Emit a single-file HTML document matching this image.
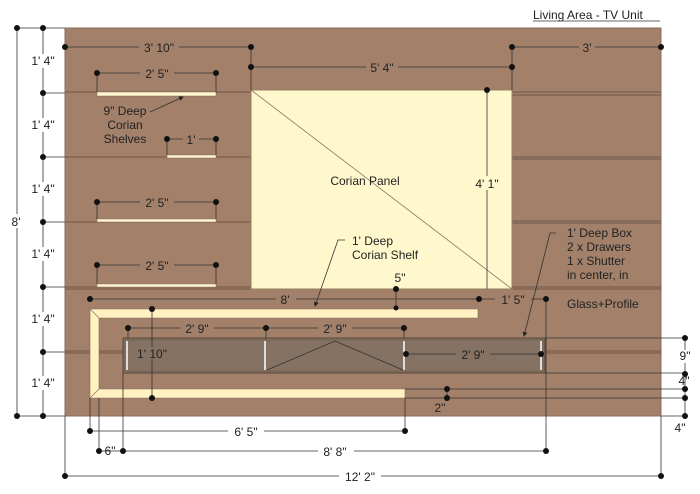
<!DOCTYPE html>
<html><head><meta charset="utf-8"><style>
html,body{margin:0;padding:0;background:#fff}
svg{display:block}
text{font-family:"Liberation Sans",sans-serif;font-size:12px;fill:#222}
</style></head><body>
<svg width="700" height="494" viewBox="0 0 700 494">
<defs><marker id="ar" markerWidth="6" markerHeight="6" refX="5" refY="3" orient="auto"><path d="M0,0 L6,3 L0,6z" fill="#222"/></marker></defs>
<rect x="65" y="28" width="596" height="388" fill="#a2806a" stroke="#8a6d58"/>
<g stroke="#6e5646" stroke-width="1">
<line x1="65" y1="92" x2="251" y2="92"/><line x1="65" y1="157" x2="251" y2="157"/><line x1="65" y1="222" x2="251" y2="222"/>
<line x1="512" y1="92" x2="661" y2="92"/><line x1="512" y1="95" x2="661" y2="95"/>
<line x1="512" y1="157" x2="661" y2="157"/><line x1="512" y1="159" x2="661" y2="159"/>
<line x1="512" y1="221" x2="661" y2="221"/><line x1="512" y1="223" x2="661" y2="223"/>
<line x1="65" y1="287" x2="661" y2="287"/><line x1="65" y1="289" x2="661" y2="289"/>
<line x1="65" y1="351" x2="123" y2="351"/><line x1="65" y1="353" x2="123" y2="353"/>
<line x1="545" y1="351" x2="661" y2="351"/><line x1="545" y1="353" x2="661" y2="353"/>
</g>
<rect x="251" y="90" width="261" height="199" fill="#fff8cc" stroke="#9a8060"/>
<line x1="251" y1="90" x2="512" y2="289" stroke="#8a7660" stroke-width="0.8"/>
<g fill="#fff6d0" stroke="#8a6d58" stroke-width="0.5">
<rect x="97" y="92" width="119" height="4"/><rect x="167" y="155" width="49" height="3"/>
<rect x="97" y="219" width="119" height="3"/><rect x="97" y="284" width="119" height="3"/>
</g>
<path d="M90,309 L478,309 L478,318 L99,318 L99,389 L405,389 L405,398 L90,398 Z" fill="#fff1c2" stroke="#8a6d58" stroke-width="0.6"/>
<line x1="90" y1="309" x2="99" y2="318" stroke="#8a6d58" stroke-width="0.6"/>
<line x1="90" y1="398" x2="99" y2="389" stroke="#8a6d58" stroke-width="0.6"/>
<rect x="123" y="338" width="422" height="35" fill="#7d6a5b" stroke="#5a4a3e"/>
<rect x="127" y="341" width="414" height="29" fill="#857262"/>
<g stroke="#ddd" stroke-width="2"><line x1="127" y1="341" x2="127" y2="370"/><line x1="265" y1="341" x2="265" y2="370"/><line x1="404" y1="341" x2="404" y2="370"/><line x1="541" y1="341" x2="541" y2="370"/></g>
<polyline points="267,370 335,341 403,370" fill="none" stroke="#333" stroke-width="0.8"/>
<g stroke="#333" stroke-width="0.8" fill="none">
<line x1="17" y1="28" x2="17" y2="416"/><line x1="43" y1="28" x2="43" y2="416"/>
<line x1="17" y1="28" x2="65" y2="28"/><line x1="17" y1="416" x2="65" y2="416"/>
<line x1="43" y1="93" x2="65" y2="93"/><line x1="43" y1="157" x2="65" y2="157"/><line x1="43" y1="222" x2="65" y2="222"/><line x1="43" y1="287" x2="65" y2="287"/><line x1="43" y1="352" x2="65" y2="352"/>
<line x1="65" y1="47" x2="251" y2="47"/><line x1="251" y1="47" x2="251" y2="90"/>
<line x1="251" y1="67" x2="512" y2="67"/><line x1="512" y1="47" x2="512" y2="90"/><line x1="512" y1="47" x2="661" y2="47"/>
<line x1="97" y1="73" x2="216" y2="73"/><line x1="97" y1="73" x2="97" y2="92"/><line x1="216" y1="73" x2="216" y2="92"/>
<line x1="167" y1="139" x2="216" y2="139"/><line x1="167" y1="139" x2="167" y2="155"/><line x1="216" y1="139" x2="216" y2="155"/>
<line x1="97" y1="202" x2="216" y2="202"/><line x1="97" y1="202" x2="97" y2="219"/><line x1="216" y1="202" x2="216" y2="219"/>
<line x1="97" y1="265" x2="216" y2="265"/><line x1="97" y1="265" x2="97" y2="284"/><line x1="216" y1="265" x2="216" y2="284"/>
<line x1="487" y1="90" x2="487" y2="289"/>
<line x1="396" y1="289" x2="396" y2="308"/>
<line x1="90" y1="299" x2="546" y2="299"/><line x1="546" y1="299" x2="546" y2="451"/>
<line x1="128" y1="328" x2="404" y2="328"/><line x1="128" y1="328" x2="128" y2="338"/><line x1="266" y1="328" x2="266" y2="338"/><line x1="404" y1="328" x2="404" y2="338"/>
<line x1="406" y1="354" x2="541" y2="354"/>
<line x1="152" y1="309" x2="152" y2="398"/>
<line x1="545" y1="338" x2="685" y2="338"/><line x1="545" y1="373" x2="685" y2="373"/>
<line x1="405" y1="389" x2="685" y2="389"/><line x1="405" y1="398" x2="685" y2="398"/>
<line x1="661" y1="416" x2="685" y2="416"/><line x1="685" y1="338" x2="685" y2="416"/>
<line x1="447" y1="389" x2="447" y2="398"/>
<line x1="90" y1="398" x2="90" y2="431"/><line x1="405" y1="398" x2="405" y2="431"/><line x1="90" y1="431" x2="405" y2="431"/>
<line x1="99" y1="398" x2="99" y2="451"/><line x1="123" y1="373" x2="123" y2="451"/><line x1="99" y1="451" x2="546" y2="451"/>
<line x1="65" y1="416" x2="65" y2="476"/><line x1="661" y1="416" x2="661" y2="476"/><line x1="65" y1="476" x2="661" y2="476"/>
<polyline points="345,240 338,240 315,306" marker-end="url(#ar)"/>
<polyline points="556,233 550,233 524,336" marker-end="url(#ar)"/>
</g>
<line x1="150" y1="112" x2="183" y2="97" stroke="#333" stroke-width="0.8" marker-end="url(#ar)"/>
<g fill="#111">
<circle cx="17" cy="28" r="3"/><circle cx="43" cy="28" r="3"/><circle cx="17" cy="416" r="3"/><circle cx="43" cy="416" r="3"/>
<circle cx="43" cy="93" r="3"/><circle cx="43" cy="157" r="3"/><circle cx="43" cy="222" r="3"/><circle cx="43" cy="287" r="3"/><circle cx="43" cy="352" r="3"/>
<circle cx="65" cy="47" r="3"/><circle cx="251" cy="47" r="3"/><circle cx="251" cy="67" r="3"/><circle cx="512" cy="67" r="3"/><circle cx="512" cy="47" r="3"/><circle cx="661" cy="47" r="3"/>
<circle cx="97" cy="73" r="3"/><circle cx="216" cy="73" r="3"/><circle cx="167" cy="139" r="3"/><circle cx="216" cy="139" r="3"/>
<circle cx="97" cy="202" r="3"/><circle cx="216" cy="202" r="3"/><circle cx="97" cy="265" r="3"/><circle cx="216" cy="265" r="3"/>
<circle cx="487" cy="90" r="3"/><circle cx="396" cy="289" r="3"/><circle cx="396" cy="308" r="2.5"/>
<circle cx="90" cy="299" r="3"/><circle cx="479" cy="299" r="3"/><circle cx="546" cy="299" r="3"/>
<circle cx="128" cy="328" r="3"/><circle cx="266" cy="328" r="3"/><circle cx="404" cy="328" r="3"/>
<circle cx="406" cy="354" r="3"/><circle cx="541" cy="354" r="3"/>
<circle cx="152" cy="309" r="3"/><circle cx="152" cy="398" r="3"/>
<circle cx="685" cy="338" r="3"/><circle cx="685" cy="374" r="3"/><circle cx="685" cy="389" r="3"/><circle cx="685" cy="398" r="3"/><circle cx="685" cy="416" r="3"/>
<circle cx="447" cy="389" r="3"/><circle cx="447" cy="398" r="3"/>
<circle cx="90" cy="431" r="3"/><circle cx="405" cy="431" r="3"/>
<circle cx="99" cy="451" r="3"/><circle cx="123" cy="451" r="3"/><circle cx="546" cy="451" r="3"/>
<circle cx="65" cy="476" r="3"/><circle cx="661" cy="476" r="3"/>
</g>
<g text-anchor="middle">
<rect x="24" y="54" width="38" height="14" fill="#fff"/><text x="43" y="65">1' 4"</text>
<rect x="24" y="118" width="38" height="14" fill="#fff"/><text x="43" y="129">1' 4"</text>
<rect x="24" y="182" width="38" height="14" fill="#fff"/><text x="43" y="193">1' 4"</text>
<rect x="24" y="247" width="38" height="14" fill="#fff"/><text x="43" y="258">1' 4"</text>
<rect x="24" y="312" width="38" height="14" fill="#fff"/><text x="43" y="323">1' 4"</text>
<rect x="24" y="376" width="38" height="14" fill="#fff"/><text x="43" y="387">1' 4"</text>
<rect x="8" y="214" width="18" height="14" fill="#fff"/><text x="16" y="226">8'</text>
<rect x="139" y="41" width="40" height="12" fill="#a2806a"/><text x="159" y="52">3' 10"</text>
<rect x="366" y="61" width="32" height="12" fill="#a2806a"/><text x="382" y="72">5' 4"</text>
<rect x="579" y="41" width="16" height="12" fill="#a2806a"/><text x="587" y="52">3'</text>
<rect x="140" y="67" width="34" height="12" fill="#a2806a"/><text x="157" y="78">2' 5"</text>
<rect x="183" y="133" width="16" height="12" fill="#a2806a"/><text x="191" y="144">1'</text>
<rect x="140" y="196" width="34" height="12" fill="#a2806a"/><text x="157" y="207">2' 5"</text>
<rect x="140" y="259" width="34" height="12" fill="#a2806a"/><text x="157" y="270">2' 5"</text>
<rect x="470" y="176" width="34" height="14" fill="#fff8cc"/><text x="487" y="188">4' 1"</text>
<rect x="276" y="293" width="20" height="12" fill="#a2806a"/><text x="285" y="304">8'</text>
<rect x="495" y="293" width="36" height="12" fill="#a2806a"/><text x="513" y="304">1' 5"</text>
<rect x="180" y="322" width="34" height="12" fill="#a2806a"/><text x="197" y="333">2' 9"</text>
<rect x="318" y="322" width="34" height="12" fill="#a2806a"/><text x="335" y="333">2' 9"</text>
<rect x="456" y="348" width="34" height="12" fill="#857262"/><text x="473" y="359">2' 9"</text>
<rect x="133" y="347" width="38" height="12" fill="#857262"/><text x="152" y="358">1' 10"</text>
<rect x="676" y="350" width="18" height="13" fill="#fff"/><text x="685" y="360">9"</text>
<text x="684" y="385">4"</text>
<text x="440" y="412">2"</text>
<text x="680" y="432">4"</text>
<rect x="228" y="425" width="36" height="13" fill="#fff"/><text x="246" y="436">6' 5"</text>
<text x="110" y="455">6"</text>
<rect x="318" y="445" width="36" height="13" fill="#fff"/><text x="335" y="456">8' 8"</text>
<rect x="339" y="470" width="42" height="13" fill="#fff"/><text x="360" y="481">12' 2"</text>
<text x="400" y="282">5"</text>
<text x="125" y="115">9" Deep</text><text x="125" y="129">Corian</text><text x="125" y="143">Shelves</text>
<text x="365" y="185">Corian Panel</text>
</g>
<text x="352" y="245">1' Deep</text><text x="352" y="259">Corian Shelf</text>
<text x="567" y="237">1' Deep Box</text><text x="567" y="251">2 x Drawers</text><text x="567" y="265">1 x Shutter</text><text x="567" y="279">in center, in</text>
<text x="567" y="308">Glass+Profile</text>
<text x="533" y="19" font-size="13" fill="#333">Living Area - TV Unit</text>
<line x1="533" y1="21" x2="660" y2="21" stroke="#333" stroke-width="0.8"/>
</svg>
</body></html>
